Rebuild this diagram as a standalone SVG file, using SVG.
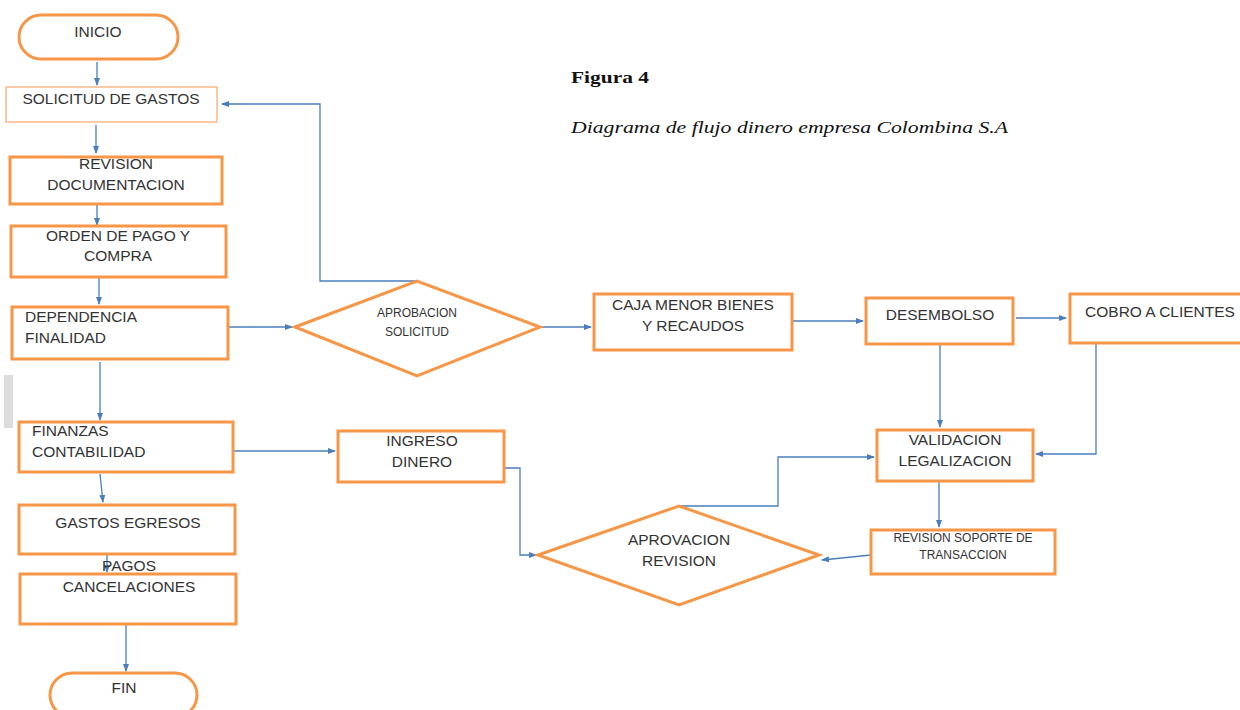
<svg xmlns="http://www.w3.org/2000/svg" width="1240" height="710" viewBox="0 0 1240 710">
<defs>
<marker id="ah" markerWidth="8" markerHeight="6" refX="7" refY="3" orient="auto" markerUnits="userSpaceOnUse">
<path d="M0,0 L8,3 L0,6 z" fill="#4a7ebb"/>
</marker>
<style>
.n{fill:#fff;stroke:#f79646;stroke-width:3}
.thin{fill:#fff;stroke:#f9b98a;stroke-width:1.5}
.t{font-family:"Liberation Sans",Arial,sans-serif;font-size:15.5px;fill:#333;text-anchor:middle}
.tl{text-anchor:start}
.ts{font-size:12px}
.c{fill:none;stroke:#4a7ebb;stroke-width:1.3}
.ca{marker-end:url(#ah)}
</style>
</defs>
<rect width="1240" height="710" fill="#fff"/>
<rect x="4" y="375" width="9" height="53" fill="#dcdcdc"/>
<text x="571" y="83" font-family="Liberation Serif,serif" font-weight="bold" font-size="17" fill="#111" textLength="78" lengthAdjust="spacingAndGlyphs">Figura 4</text>
<text x="571" y="133" font-family="Liberation Serif,serif" font-style="italic" font-size="17" fill="#111" textLength="437" lengthAdjust="spacingAndGlyphs">Diagrama de flujo dinero empresa Colombina S.A</text>

<g id="connectors">
<path class="c ca" d="M97,62 V85"/>
<path class="c ca" d="M96,125 V153"/>
<path class="c ca" d="M97,205 V225"/>
<path class="c ca" d="M99,278 V304"/>
<path class="c ca" d="M228,327 H292"/>
<path class="c ca" d="M100,362 V420"/>
<path class="c ca" d="M100,474 L103,502"/>
<path class="c ca" d="M107,553 V572"/>
<path class="c ca" d="M126,625 V671"/>
<path class="c ca" d="M417,281 H320 V104 H222"/>
<path class="c ca" d="M540,327 H591"/>
<path class="c ca" d="M792,321 H863"/>
<path class="c ca" d="M1016,318 H1066"/>
<path class="c" d="M1096,343 H1153"/>
<path class="c ca" d="M1096,343 V454 H1036"/>
<path class="c ca" d="M940,345 V427"/>
<path class="c ca" d="M939,482 V527"/>
<path class="c ca" d="M871,555 L822,560"/>
<path class="c ca" d="M679,506 H778 V457 H874"/>
<path class="c ca" d="M233,451 H335"/>
<path class="c ca" d="M505,468 H520 V555 H536"/>
</g>

<g id="inicio"><rect class="n" x="19" y="15" width="159" height="44" rx="22"/><text class="t" x="98" y="37">INICIO</text></g>
<g id="solicitud"><rect class="thin" x="6" y="87" width="211" height="35"/><text class="t" x="111" y="104">SOLICITUD DE GASTOS</text></g>
<g id="revision"><rect class="n" x="10" y="157" width="212" height="47"/><text class="t" x="116" y="169">REVISION</text><text class="t" x="116" y="190">DOCUMENTACION</text></g>
<g id="orden"><rect class="n" x="11" y="226" width="215" height="51"/><text class="t" x="118" y="241">ORDEN DE PAGO Y</text><text class="t" x="118" y="261">COMPRA</text></g>
<g id="dependencia"><rect class="n" x="12" y="307" width="216" height="52"/><text class="t tl" x="25" y="322">DEPENDENCIA</text><text class="t tl" x="25" y="343">FINALIDAD</text></g>
<g id="finanzas"><rect class="n" x="19" y="422" width="214" height="50"/><text class="t tl" x="32" y="436">FINANZAS</text><text class="t tl" x="32" y="457">CONTABILIDAD</text></g>
<g id="gastos"><rect class="n" x="19" y="505" width="216" height="49"/><text class="t" x="128" y="528">GASTOS EGRESOS</text></g>
<g id="pagos"><rect class="n" x="20" y="574" width="216" height="50"/><text class="t" x="129" y="571">PAGOS</text><text class="t" x="129" y="592">CANCELACIONES</text></g>
<g id="fin"><rect class="n" x="50" y="673" width="147" height="44" rx="22"/><text class="t" x="124" y="693">FIN</text></g>
<g id="aprobacion"><polygon class="n" points="295,327 417,281 540,327 417,376"/><text class="t ts" x="417" y="317">APROBACION</text><text class="t ts" x="417" y="336">SOLICITUD</text></g>
<g id="caja"><rect class="n" x="594" y="294" width="198" height="56"/><text class="t" x="693" y="310">CAJA MENOR BIENES</text><text class="t" x="693" y="331">Y RECAUDOS</text></g>
<g id="desembolso"><rect class="n" x="866" y="298" width="147" height="46"/><text class="t" x="940" y="320">DESEMBOLSO</text></g>
<g id="cobro"><rect class="n" x="1070" y="294" width="180" height="49"/><text class="t" x="1160" y="317">COBRO A CLIENTES</text></g>
<g id="validacion"><rect class="n" x="877" y="430" width="156" height="51"/><text class="t" x="955" y="445">VALIDACION</text><text class="t" x="955" y="466">LEGALIZACION</text></g>
<g id="soporte"><rect class="n" x="871" y="530" width="184" height="44"/><text class="t ts" x="963" y="542">REVISION SOPORTE DE</text><text class="t ts" x="963" y="559">TRANSACCION</text></g>
<g id="aprovacion"><polygon class="n" points="538,555 679,506 819,555 679,605"/><text class="t" x="679" y="545">APROVACION</text><text class="t" x="679" y="566">REVISION</text></g>
<g id="ingreso"><rect class="n" x="338" y="431" width="166" height="51"/><text class="t" x="422" y="446">INGRESO</text><text class="t" x="422" y="467">DINERO</text></g>
</svg>
